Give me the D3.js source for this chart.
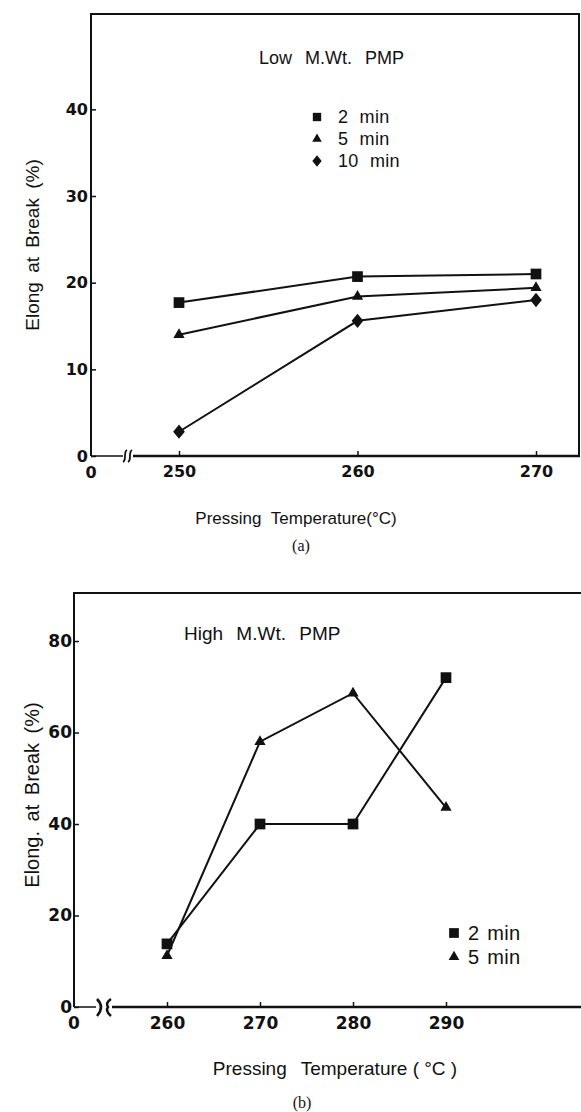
<!DOCTYPE html>
<html>
<head>
<meta charset="utf-8">
<script src="https://cdn.jsdelivr.net/npm/d3@7"></script>
<style>
  body { margin: 0; background: #fff; }
  svg { display: block; }
  .tick text { font-family: "DejaVu Sans", sans-serif; font-weight: bold; fill: #111; }
  .lbl { font-family: "Liberation Sans", Arial, sans-serif; fill: #111; }
</style>
</head>
<body>
<script>
// panel (a): low M.Wt.
const lowTemps = [250, 260, 270];
const low2min = [17.7, 20.7, 21.0];
const low5min = [14.0, 18.4, 19.4];
const low10min = [2.8, 15.6, 18.0];
const lowYTicks = [0, 10, 20, 30, 40];

// panel (b): high M.Wt.
const highTemps = [260, 270, 280, 290];
const high2min = [13.8, 40, 40, 72];
const high5min = [11.2, 58, 68.6, 43.6];
const highYTicks = [0, 20, 40, 60, 80];

const svg = d3.select('body').append('svg')
  .attr('width', 581)
  .attr('height', 1112);

const ink = '#111';

// squat diamond like the printed marker
const diamond = {
  draw(ctx, size) {
    const h = Math.sqrt(size) * 0.68;
    const w = h * 0.82;
    ctx.moveTo(0, -h);
    ctx.lineTo(w, 0);
    ctx.lineTo(0, h);
    ctx.lineTo(-w, 0);
    ctx.closePath();
  }
};

function symbolPath(type, size) {
  return d3.symbol().type(type).size(size)();
}

function drawSeries(g, x, y, temps, values, type, size) {
  const pts = temps.map((t, i) => ({ t, v: values[i] }));
  g.append('path')
    .datum(pts)
    .attr('fill', 'none')
    .attr('stroke', ink)
    .attr('stroke-width', 2)
    .attr('d', d3.line().x(d => x(d.t)).y(d => y(d.v)));
  g.selectAll(null)
    .data(pts)
    .join('path')
    .attr('transform', d => `translate(${x(d.t)},${y(d.v)})`)
    .attr('d', symbolPath(type, size))
    .attr('fill', ink);
}

function drawAxes(g, x, y, xTicks, yTicks, originX, rightX, breakX, breakStyle, fs, yPad) {
  const y0 = y.range()[0];
  const yTop = y.range()[1];

  // y axis, ticks point inward
  const ya = g.append('g')
    .attr('transform', `translate(${originX},0)`)
    .call(d3.axisLeft(y).tickValues(yTicks).tickSize(-5).tickPadding(yPad));
  ya.select('.domain').remove();
  ya.selectAll('.tick line').attr('stroke', ink).attr('stroke-width', 1.5);
  ya.selectAll('.tick text').attr('font-size', fs);

  // x axis ticks (pointing up)
  const xa = g.append('g')
    .attr('transform', `translate(0,${y0})`)
    .call(d3.axisBottom(x).tickValues(xTicks).tickSize(-5).tickPadding(10));
  xa.select('.domain').remove();
  xa.selectAll('.tick line').attr('stroke', ink).attr('stroke-width', 1.5);
  xa.selectAll('.tick text').attr('font-size', fs);

  // "0" at the origin
  g.append('text')
    .attr('x', originX)
    .attr('y', y0 + 22)
    .attr('text-anchor', 'middle')
    .attr('font-family', '"DejaVu Sans", sans-serif')
    .attr('font-weight', 'bold')
    .attr('font-size', fs)
    .attr('fill', ink)
    .text('0');

  // left axis line and top border
  g.append('line').attr('x1', originX).attr('x2', originX).attr('y1', yTop).attr('y2', y0)
    .attr('stroke', ink).attr('stroke-width', 2);
  g.append('line').attr('x1', originX - 1).attr('x2', rightX).attr('y1', yTop).attr('y2', yTop)
    .attr('stroke', ink).attr('stroke-width', 2);

  // broken x axis
  g.append('line').attr('x1', originX).attr('x2', breakX - 4).attr('y1', y0).attr('y2', y0)
    .attr('stroke', ink).attr('stroke-width', 1.5);
  g.append('line').attr('x1', breakX + (breakStyle === 'a' ? 6 : 12)).attr('x2', rightX).attr('y1', y0).attr('y2', y0)
    .attr('stroke', ink).attr('stroke-width', 2.5);

  if (breakStyle === 'a') {
    [breakX - 2, breakX + 3].forEach(bx => {
      g.append('path')
        .attr('d', `M${bx - 2},${y0 + 6} C${bx + 2},${y0 + 4} ${bx - 2},${y0 - 4} ${bx + 2},${y0 - 6}`)
        .attr('fill', 'none').attr('stroke', ink).attr('stroke-width', 1.8);
    });
  } else {
    g.append('path')
      .attr('d', `M${breakX - 3},${y0 - 8} Q${breakX + 5},${y0} ${breakX - 3},${y0 + 9}`)
      .attr('fill', 'none').attr('stroke', ink).attr('stroke-width', 2.5);
    g.append('path')
      .attr('d', `M${breakX + 11},${y0 - 8} Q${breakX + 5},${y0 - 4} ${breakX + 8},${y0} Q${breakX + 5},${y0 + 4} ${breakX + 11},${y0 + 9}`)
      .attr('fill', 'none').attr('stroke', ink).attr('stroke-width', 2.5);
  }
}

function legend(g, x0, y0, items, gap, textDx, fontSize, wordSpacing) {
  items.forEach((it, i) => {
    const row = g.append('g').attr('transform', `translate(${x0},${y0 + i * gap})`);
    row.append('path').attr('d', symbolPath(it.type, it.size)).attr('fill', ink);
    row.append('text')
      .attr('class', 'lbl')
      .attr('x', textDx)
      .attr('y', fontSize * 0.36)
      .attr('font-size', fontSize)
      .attr('letter-spacing', 0.3)
      .attr('word-spacing', wordSpacing)
      .text(it.label);
  });
}

// ---------- panel (a) ----------
const ga = svg.append('g');
const xa = d3.scaleLinear().domain([250, 270]).range([179, 536]);
const ya = d3.scaleLinear().domain([0, 51]).range([456, 14]);

drawAxes(ga, xa, ya, lowTemps, lowYTicks, 91, 580, 127, 'a', 16, 3);
ga.append('line').attr('x1', 579).attr('x2', 579).attr('y1', 14).attr('y2', 456)
  .attr('stroke', ink).attr('stroke-width', 2);

drawSeries(ga, xa, ya, lowTemps, low2min, d3.symbolSquare, 115);
drawSeries(ga, xa, ya, lowTemps, low5min, d3.symbolTriangle, 55);
drawSeries(ga, xa, ya, lowTemps, low10min, diamond, 110);

ga.append('text').attr('class', 'lbl')
  .attr('x', 259).attr('y', 64)
  .attr('font-size', 18)
  .attr('word-spacing', 8)
  .text('Low M.Wt. PMP');

legend(ga, 317, 117, [
  { type: d3.symbolSquare, size: 70, label: '2 min' },
  { type: d3.symbolTriangle, size: 40, label: '5 min' },
  { type: diamond, size: 70, label: '10 min' }
], 22, 21, 18, 6);

ga.append('text').attr('class', 'lbl')
  .attr('transform', 'translate(39,245) rotate(-90)')
  .attr('text-anchor', 'middle')
  .attr('font-size', 19)
  .attr('word-spacing', 4)
  .text('Elong at Break (%)');

ga.append('text').attr('class', 'lbl')
  .attr('x', 296).attr('y', 524)
  .attr('text-anchor', 'middle')
  .attr('font-size', 17)
  .attr('word-spacing', 5)
  .text('Pressing Temperature(°C)');

ga.append('text')
  .attr('x', 301).attr('y', 551)
  .attr('text-anchor', 'middle')
  .attr('font-family', '"Liberation Serif", "Times New Roman", serif')
  .attr('font-size', 16)
  .attr('fill', ink)
  .text('(a)');

// ---------- panel (b) ----------
const gb = svg.append('g');
const xb = d3.scaleLinear().domain([260, 290]).range([167, 446]);
const yb = d3.scaleLinear().domain([0, 90.5]).range([1007, 593]);

drawAxes(gb, xb, yb, highTemps, highYTicks, 74, 581, 100, 'b', 17, 2);

drawSeries(gb, xb, yb, highTemps, high2min, d3.symbolSquare, 115);
drawSeries(gb, xb, yb, highTemps, high5min, d3.symbolTriangle, 55);

gb.append('text').attr('class', 'lbl')
  .attr('x', 184).attr('y', 640)
  .attr('font-size', 19)
  .attr('word-spacing', 8)
  .text('High M.Wt. PMP');

legend(gb, 454, 933, [
  { type: d3.symbolSquare, size: 95, label: '2 min' },
  { type: d3.symbolTriangle, size: 50, label: '5 min' }
], 24, 14, 20, 2);

gb.append('text').attr('class', 'lbl')
  .attr('transform', 'translate(39,795) rotate(-90)')
  .attr('text-anchor', 'middle')
  .attr('font-size', 20)
  .attr('word-spacing', 4)
  .text('Elong. at Break (%)');

const xTitleB = gb.append('text').attr('class', 'lbl')
  .attr('x', 335).attr('y', 1075)
  .attr('text-anchor', 'middle')
  .attr('font-size', 19);
xTitleB.append('tspan').attr('word-spacing', 9).text('Pressing Temperature');
xTitleB.append('tspan').text(' ( °C )');

gb.append('text')
  .attr('x', 302).attr('y', 1108)
  .attr('text-anchor', 'middle')
  .attr('font-family', '"Liberation Serif", "Times New Roman", serif')
  .attr('font-size', 16)
  .attr('fill', ink)
  .text('(b)');
</script>
</body>
</html>
